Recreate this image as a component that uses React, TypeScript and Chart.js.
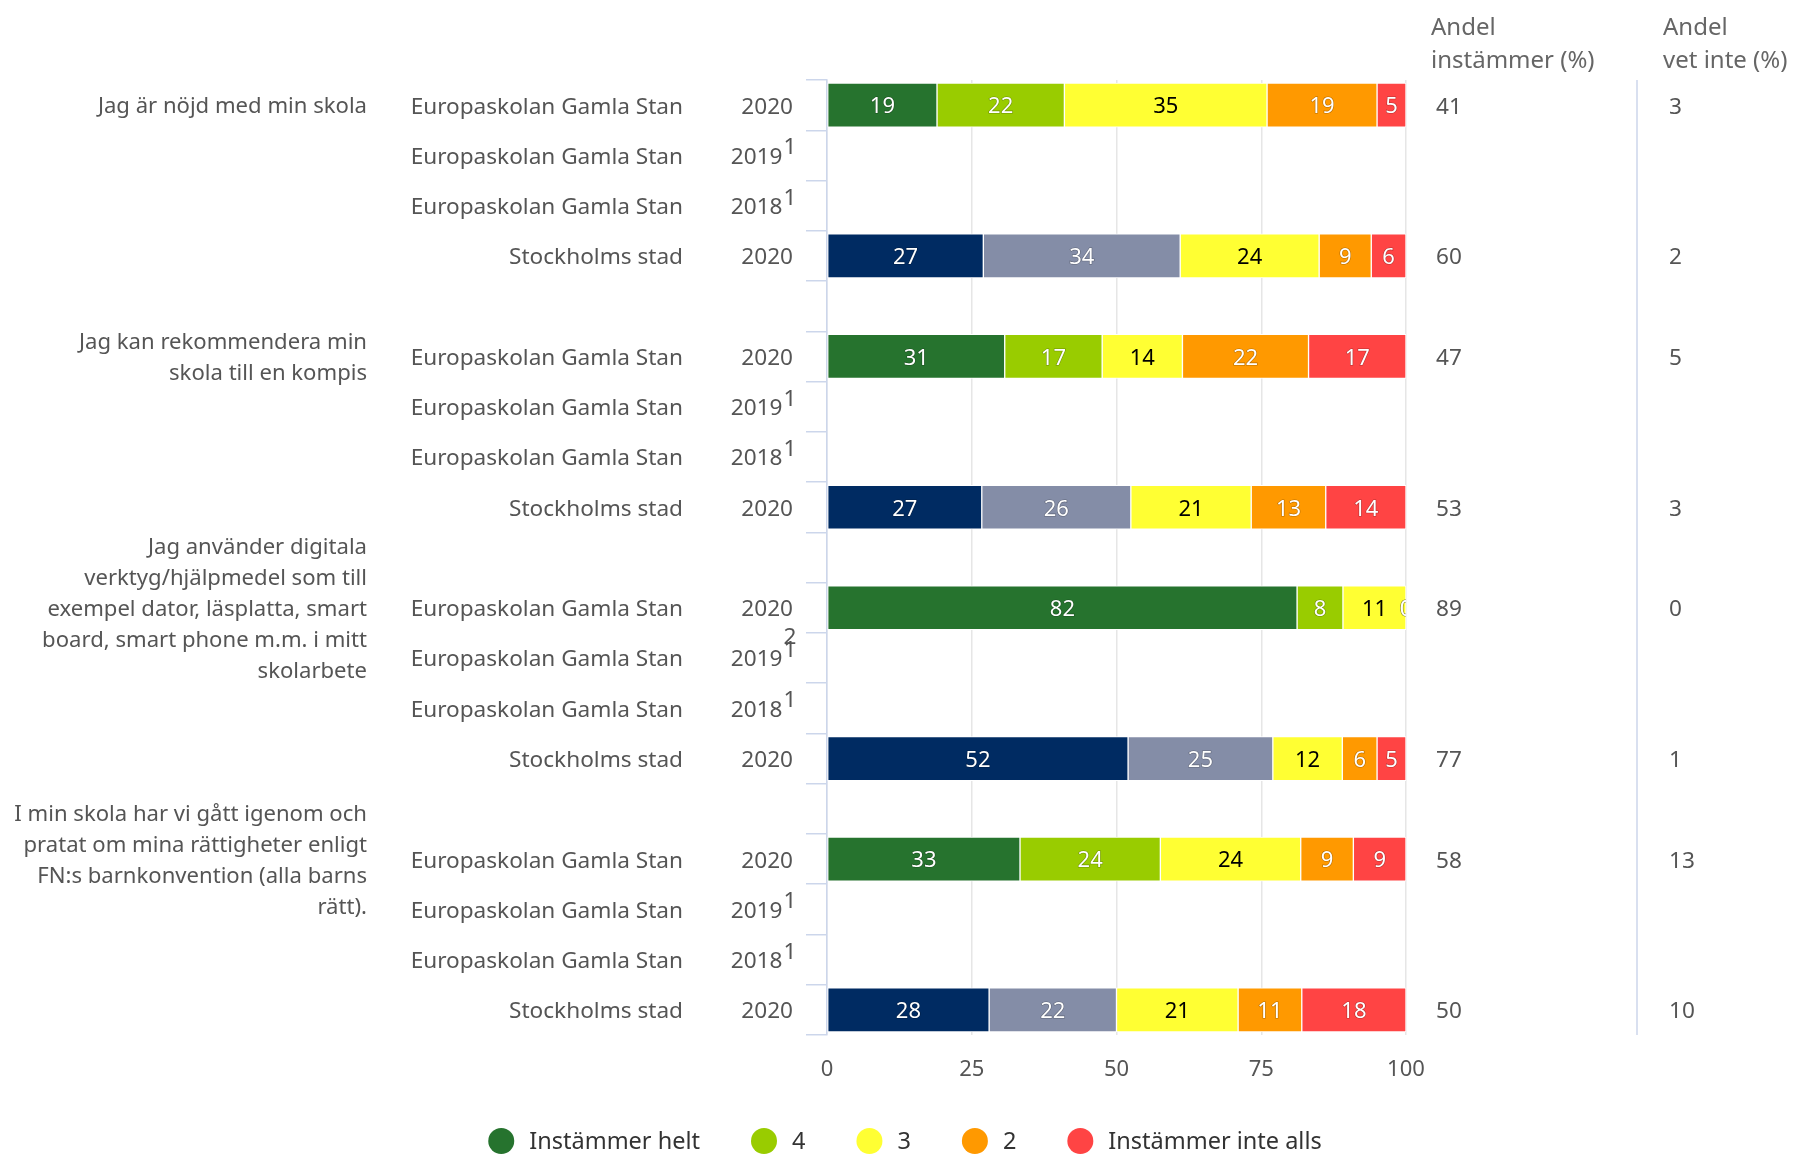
import React, { useEffect, useRef } from 'react';
import { Chart, registerables } from 'chart.js';

Chart.register(...registerables);

const W = 1793;
const H = 1155;
const FONT = '"Noto Sans"';
const DY = 2;

const questions: string[][] = [
  ['Jag är nöjd med min skola'],
  ['Jag kan rekommendera min', 'skola till en kompis'],
  ['Jag använder digitala', 'verktyg/hjälpmedel som till', 'exempel dator, läsplatta, smart', 'board, smart phone m.m. i mitt', 'skolarbete'],
  ['I min skola har vi gått igenom och', 'pratat om mina rättigheter enligt', 'FN:s barnkonvention (alla barns', 'rätt).'],
];
const unitNames = ['Europaskolan Gamla Stan', 'Europaskolan Gamla Stan', 'Europaskolan Gamla Stan', 'Stockholms stad'];
const yearLabels = ['2020', '2019', '2018', '2020'];
const yearNotes = ['', '1', '1', ''];
const extraNotes = [{ row: 11, text: '2' }];

const seriesNames = ['Instämmer helt', '4', '3', '2', 'Instämmer inte alls'];
const instammerHelt = [19, null, null, 27, null, 31, null, null, 27, null, 82, null, null, 52, null, 33, null, null, 28];
const serie4 = [22, null, null, 34, null, 17, null, null, 26, null, 8, null, null, 25, null, 24, null, null, 22];
const serie3 = [35, null, null, 24, null, 14, null, null, 21, null, 11, null, null, 12, null, 24, null, null, 21];
const serie2 = [19, null, null, 9, null, 22, null, null, 13, null, 0, null, null, 6, null, 9, null, null, 11];
const instammerInteAlls = [5, null, null, 6, null, 17, null, null, 14, null, 0, null, null, 5, null, 9, null, null, 18];
const andelInstammer = [41, null, null, 60, null, 47, null, null, 53, null, 89, null, null, 77, null, 58, null, null, 50];
const andelVetInte = [3, null, null, 2, null, 5, null, null, 3, null, 0, null, null, 1, null, 13, null, null, 10];
const xTicks = [0, 25, 50, 75, 100];

const schoolColors = ['#26732e', '#99cc00', '#ffff33', '#ff9900', '#ff4444'];
const cityColors = ['#002b62', '#848da7', '#ffff33', '#ff9900', '#ff4444'];
const legendColors = schoolColors;

type Row = { q: number | null; unit: string; year: string; note: string; spacer: boolean; city: boolean; key: string };
const rows: Row[] = [];
questions.forEach((_, qi) => {
  unitNames.forEach((u, ri) => {
    rows.push({ q: ri === 0 ? qi : null, unit: u, year: yearLabels[ri], note: yearNotes[ri], spacer: false, city: ri === 3, key: `${qi}-${ri}` });
  });
  if (qi < questions.length - 1) rows.push({ q: null, unit: '', year: '', note: '', spacer: true, city: false, key: `sp${qi}` });
});

const series = [instammerHelt, serie4, serie3, serie2, instammerInteAlls];
const rowSums = rows.map((_, i) => series.reduce((a, s) => a + (s[i] ?? 0), 0));

const TEXT = '#555555';
const f = (size: number) => `${size}px ${FONT}`;

const overlay = {
  id: 'overlay',
  afterDatasetsDraw(chart: any) {
    const ctx = chart.ctx as CanvasRenderingContext2D;
    const area = chart.chartArea;
    ctx.save();
    ctx.beginPath();
    ctx.rect(area.left, area.top, area.right - area.left, area.bottom - area.top);
    ctx.clip();
    ctx.font = f(22);
    ctx.textAlign = 'center';
    ctx.textBaseline = 'middle';
    series.forEach((s, si) => {
      const meta = chart.getDatasetMeta(si);
      meta.data.forEach((el: any, i: number) => {
        const raw = s[i];
        if (raw == null) return;
        const { x, base, y } = el.getProps(['x', 'base', 'y'], true);
        const cx = (x + base) / 2;
        const light = si !== 2;
        if (light) {
          ctx.lineWidth = 1.2;
          ctx.strokeStyle = 'rgba(0,0,0,0.3)';
          ctx.strokeText(String(raw), cx, y + DY);
          ctx.fillStyle = '#ffffff';
        } else {
          ctx.fillStyle = '#000000';
        }
        ctx.fillText(String(raw), cx, y + DY);
      });
    });
    ctx.restore();
  },
  afterDraw(chart: any) {
    const ctx = chart.ctx as CanvasRenderingContext2D;
    const yScale = chart.scales.y;
    const area = chart.chartArea;
    ctx.save();
    ctx.textBaseline = 'middle';
    ctx.fillStyle = TEXT;
    rows.forEach((r, i) => {
      const y = yScale.getPixelForValue(i) + DY;
      if (r.spacer) return;
      ctx.font = f(22.6);
      ctx.textAlign = 'right';
      ctx.fillText(r.unit, 683, y);
      if (r.note) {
        ctx.textAlign = 'center';
        ctx.fillText(r.note, 790, y - 9.5);
        ctx.textAlign = 'right';
        ctx.fillText(r.year, 782.5, y);
      } else {
        ctx.fillText(r.year, 793, y);
      }
      if (r.q != null) {
        const lines = questions[r.q];
        const lh = 31;
        ctx.font = f(22.1);
        lines.forEach((ln, li) => {
          ctx.fillText(ln, 367, y + (li - (lines.length - 1) / 2) * lh);
        });
        ctx.font = f(22.6);
      }
      ctx.textAlign = 'left';
      const a = andelInstammer[i];
      if (a != null) ctx.fillText(String(a), 1436, y);
      const v = andelVetInte[i];
      if (v != null) ctx.fillText(String(v), 1669, y);
    });
    extraNotes.forEach((n) => {
      const y = yScale.getPixelForValue(n.row) + DY;
      ctx.textAlign = 'center';
      ctx.fillText(n.text, 790, y - 22.5);
    });
    // column headers
    ctx.fillStyle = '#666666';
    ctx.textAlign = 'left';
    ctx.font = f(24);
    ctx.fillText('Andel', 1431, 28.5);
    ctx.fillText('instämmer (%)', 1431, 61.5);
    ctx.fillText('Andel', 1663, 28.5);
    ctx.fillText('vet inte (%)', 1663, 61.5);
    // separator between columns
    ctx.strokeStyle = '#ccd6eb';
    ctx.lineWidth = 1.5;
    ctx.beginPath();
    ctx.moveTo(1637, area.top);
    ctx.lineTo(1637, area.bottom);
    ctx.stroke();
    // legend
    ctx.font = f(23.5);
    const widths = seriesNames.map((n) => ctx.measureText(n).width);
    const r = 13;
    const toText = 28;
    const gap = 51;
    const total = widths.reduce((a, w) => a + r + toText + w, 0) + gap * (widths.length - 1);
    let x = 905 - total / 2;
    const ly = 1141;
    seriesNames.forEach((n, i) => {
      const cx = x + r;
      ctx.fillStyle = legendColors[i];
      ctx.beginPath();
      ctx.arc(cx, ly, r, 0, Math.PI * 2);
      ctx.fill();
      ctx.fillStyle = '#333333';
      ctx.textAlign = 'left';
      ctx.fillText(n, cx + toText, ly + 1.5);
      x = cx + toText + widths[i] + gap;
    });
    ctx.restore();
  },
};

export default function App() {
  const ref = useRef<HTMLCanvasElement>(null);
  useEffect(() => {
    const chart = new Chart(ref.current as HTMLCanvasElement, {
      type: 'bar',
      data: {
        labels: rows.map((r) => r.key),
        datasets: series.map((s, si) => ({
          label: seriesNames[si],
          data: s.map((v, i) => (v == null ? null : (v / rowSums[i]) * 100)),
          backgroundColor: rows.map((r) => (r.city ? cityColors[si] : schoolColors[si])),
          borderColor: '#ffffff',
          borderWidth: 1,
          borderSkipped: false,
          barThickness: 44,
          stack: 's',
        })),
      },
      options: {
        indexAxis: 'y',
        responsive: false,
        animation: false,
        layout: { padding: { left: 0, right: W - 1406, top: 80, bottom: 60 } },
        plugins: { legend: { display: false }, tooltip: { enabled: false } },
        scales: {
          x: {
            stacked: true,
            min: 0,
            max: 100,
            afterBuildTicks: (s: any) => { s.ticks = xTicks.map((v) => ({ value: v })); },
            ticks: { font: { family: 'Noto Sans', size: 22 }, color: TEXT, padding: 22 },
            grid: { color: '#e6e6e6', lineWidth: 1.5, drawTicks: false },
            border: { display: false },
            afterFit: (s: any) => { s.height = 60; },
          },
          y: {
            stacked: true,
            ticks: { display: false },
            grid: { drawOnChartArea: false, drawTicks: true, tickLength: 21, tickColor: '#ccd6eb', offset: true, lineWidth: 1.5 },
            border: { display: true, color: '#ccd6eb', width: 1.5 },
            afterFit: (s: any) => { s.width = 827; },
          },
        },
      },
      plugins: [overlay],
    } as any);
    return () => chart.destroy();
  }, []);
  return (
    <div style={{ position: 'absolute', left: 0, top: 0, width: W, height: H, background: '#fff' }}>
      <canvas ref={ref} width={W} height={H} style={{ display: 'block', width: W, height: H }} />
    </div>
  );
}
